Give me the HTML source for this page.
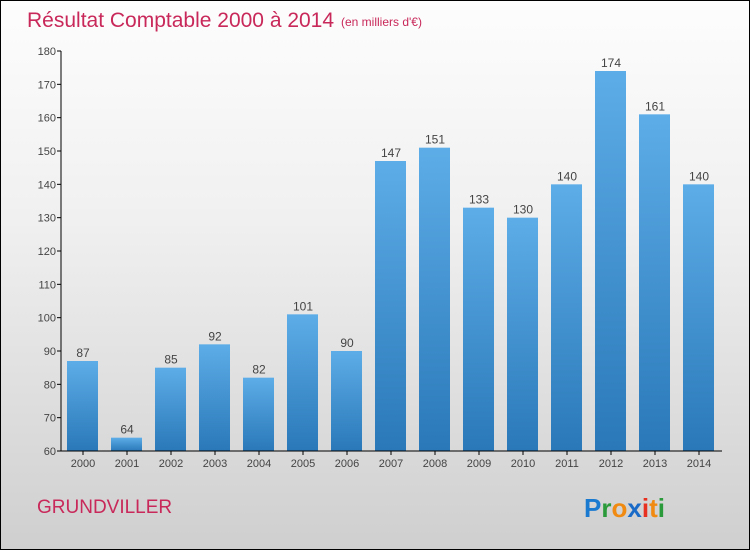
<!DOCTYPE html>
<html><head><meta charset="utf-8"><style>
body{margin:0}
#c{position:relative;width:748px;height:548px;border:1px solid #000;background:linear-gradient(#fdfdfd,#f0f0f0 40%,#cfcfcf);font-family:"Liberation Sans",sans-serif;overflow:hidden}
</style></head><body>
<div id="c">
<svg width="748" height="548" id="s">
<defs><linearGradient id="bg" x1="0" y1="0" x2="0" y2="1"><stop offset="0" stop-color="#5dade8"/><stop offset="1" stop-color="#2a78b8"/></linearGradient></defs>
<text x="26" y="26" font-size="21" fill="#c8285a">Résultat Comptable 2000 à 2014</text>
<text x="340" y="25" font-size="12" fill="#c8285a">(en milliers d'€)</text>
<text x="36" y="512" font-size="19" fill="#c8285a">GRUNDVILLER</text>
<g font-size="26" font-weight="bold" font-family="'Liberation Sans',sans-serif">
<text x="583" y="516"><tspan fill="#1a7ad0">P</tspan><tspan fill="#2a9a3a">r</tspan><tspan fill="#f08a10">o</tspan><tspan fill="#1a6ac8">x</tspan><tspan fill="#e83020">i</tspan><tspan fill="#f08a10">t</tspan><tspan fill="#2a9a3a">i</tspan></text></g>
<g id="g"></g>
</svg></div>
<script>
const years=["2000","2001","2002","2003","2004","2005","2006","2007","2008","2009","2010","2011","2012","2013","2014"];
const values=[87,64,85,92,82,101,90,147,151,133,130,140,174,161,140];
const ticks=[60,70,80,90,100,110,120,130,140,150,160,170,180];
const ns="http://www.w3.org/2000/svg",g=document.getElementById('g');
const y=v=>450-(v-60)*(400/120), x=i=>81+i*44;
function mk(t,a,txt){const e=document.createElementNS(ns,t);for(const k in a)e.setAttribute(k,a[k]);if(txt!=null)e.textContent=txt;g.appendChild(e);return e;}
ticks.forEach(t=>{
const l=mk('line',{x1:56,x2:60,y1:y(t),y2:y(t),stroke:'#000'});


const tx=mk('text',{x:55,y:y(t)+4,'font-size':11,'text-anchor':'end',fill:'#444'},t);


});
values.forEach((v,i)=>{
const r=mk('rect',{x:x(i)-15,y:y(v),width:31,height:450-y(v),fill:'url(#bg)'});


const t=mk('text',{x:x(i)+1,y:y(v)-4,'font-size':12,'text-anchor':'middle',fill:'#444'},v);


const xl=mk('text',{x:x(i)+1,y:466,'font-size':11,'text-anchor':'middle',fill:'#444'},years[i]);


const xt=mk('line',{x1:x(i)+1,x2:x(i)+1,y1:450,y2:454,stroke:'#000'});


});
const ya=mk('line',{x1:60,x2:60,y1:y(180),y2:450,stroke:'#000'});


const xa=mk('line',{x1:60,x2:721,y1:450,y2:450,stroke:'#000'});


</script>
</body></html>
